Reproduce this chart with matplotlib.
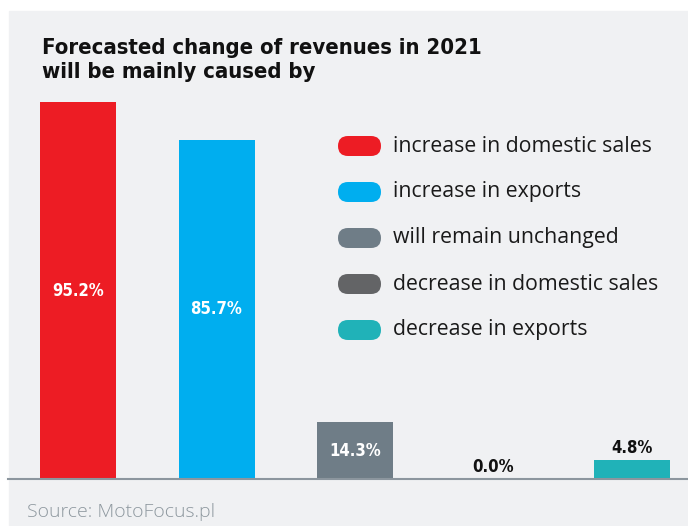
import matplotlib
matplotlib.use("Agg")
import matplotlib.pyplot as plt
from matplotlib.patches import FancyBboxPatch, Rectangle

# survey answers (share of respondents, %)
labels = ["increase in domestic sales", "increase in exports", "will remain unchanged",
          "decrease in domestic sales", "decrease in exports"]
values = [95.2, 85.7, 14.3, 0.0, 4.8]
colors = ["#ed1c24", "#00aeef", "#6f7d87", "#636466", "#20b2b8"]
inside = [True, True, True, False, False]   # label drawn inside the bar (white)

TITLE = "Forecasted change of revenues in 2021\nwill be mainly caused by"
SOURCE = "Source: MotoFocus.pl"

W, H = 688, 526
BG = "#f0f1f3"
BODY_FONT = ["Open Sans", "DejaVu Sans"]

fig = plt.figure(figsize=(W / 100, H / 100), dpi=100)
fig.patch.set_facecolor("white")
fig.add_artist(Rectangle((9 / W, 0), 1 - 9 / W, (H - 11) / H,
                         transform=fig.transFigure, color=BG, zorder=0))

# bar axes: baseline at y=479 px, 95.2 reaches y=102 px
base_px, top_px = 479, 102
ax = fig.add_axes([8 / W, 1 - base_px / H, 680 / W, (base_px - top_px) / H])
ax.set_facecolor("none")
step = 138.5
ax.set_xlim(-(78 - 8) / step, -(78 - 8) / step + 680 / step)
ax.set_ylim(0, max(values))
xs = range(len(values))
ax.bar(xs, values, width=76 / step, color=colors, zorder=2)
for s in ax.spines.values():
    s.set_visible(False)
ax.set_xticks([]); ax.set_yticks([])
ax.axhline(0, color="#8c969e", lw=1.5, zorder=3, clip_on=False)

for x, v, ins in zip(xs, values, inside):
    if ins:
        ax.text(x, v / 2, f"{v:.1f}%", ha="center", va="center", color="white",
                fontsize=12, fontweight="bold", fontstretch="condensed", zorder=4)
    else:
        ax.text(x, v + 0.8, f"{v:.1f}%", ha="center", va="bottom", color="#111111",
                fontsize=12, fontweight="bold", fontstretch="condensed", zorder=4)

# overlay in pixel coordinates for title, legend and source
ov = fig.add_axes([0, 0, 1, 1])
ov.set_xlim(0, W); ov.set_ylim(H, 0)
ov.axis("off")
ov.patch.set_alpha(0)

ov.text(42, 60, TITLE, ha="left", va="center", fontsize=15.8, fontweight="bold",
        fontstretch="condensed", color="#111111", linespacing=1.25)

for i, (lab, c) in enumerate(zip(labels, colors)):
    yc = 146 + 46 * i
    ov.add_patch(FancyBboxPatch((338, yc - 10), 43, 20,
                                boxstyle="round,pad=0,rounding_size=10",
                                facecolor=c, edgecolor="none"))
    ov.text(393, yc, lab, ha="left", va="center", fontsize=15.3,
            family=BODY_FONT, color="#1a1a1a")

ov.text(27, 512, SOURCE, ha="left", va="center", fontsize=14,
        family=BODY_FONT, fontweight="light", color="#8e989f")

fig.savefig("out.png", dpi=100, facecolor=fig.get_facecolor())
